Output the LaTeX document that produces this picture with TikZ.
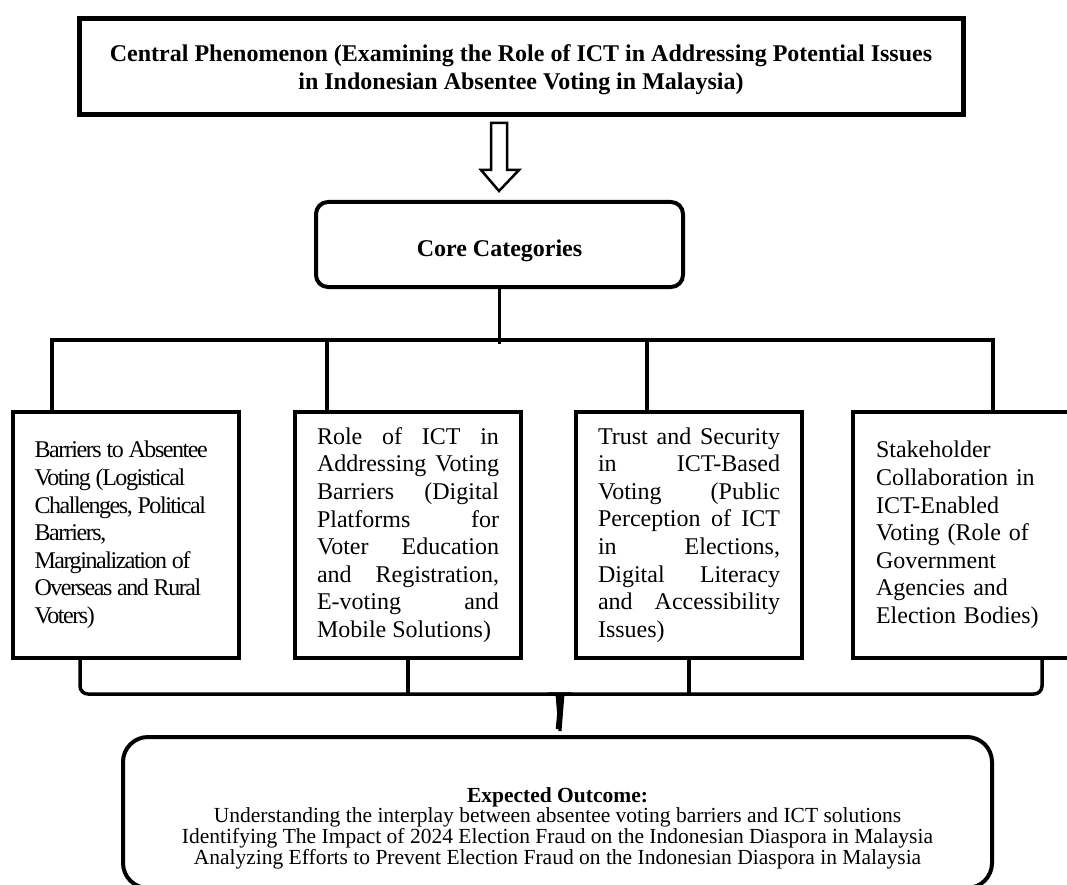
\documentclass[tikz,border=0pt]{standalone}
\usepackage{fontspec}
\setmainfont{Liberation Serif}
\newfontfamily\tightfont[LetterSpace=-6]{Liberation Serif}
\usetikzlibrary{positioning}
\hyphenpenalty=10000

\begin{document}
\begin{tikzpicture}[x=1pt, y=-1pt,
        box/.style = {draw, line width=4pt, inner sep=0pt, text width=182pt, minimum width=226pt, minimum height=246pt, font=\fontsize{24}{27.6}\selectfont},
        link/.style = {line width=3.5pt}
    ]
        \useasboundingbox (0, 0) rectangle (1067, 885);
        \node (central) [draw, line width=5pt, minimum width=884pt, minimum height=96pt, align=center, text depth=0pt, font=\bfseries\fontsize{24}{28}\selectfont] at (521, 67) {Central Phenomenon (Examining the Role of ICT in Addressing Potential Issues\\ in Indonesian Absentee Voting in Malaysia)};
        \node (core) [draw, line width=4pt, rounded corners=12pt, minimum width=367pt, minimum height=85pt, text height=23pt, text depth=0pt, font=\bfseries\fontsize{24}{28}\selectfont] at (499.5, 244.5) {Core Categories};
        \draw[line width=2.5pt, fill=white] (491, 123) -- (507, 123) -- (507, 170) -- (519, 170) -- (499, 191) -- (481, 170) -- (491, 170) -- cycle;

        \node (barriers) [box, align=left, font=\tightfont\fontsize{24}{27.6}\selectfont] at (125.5, 535) {\spaceskip=0.2em\relax Barriers to Absentee\\ Voting (Logistical\\ Challenges, Political\\ Barriers,\\ Marginalization of\\ Overseas and Rural\\ Voters)};
        \node (ictrole) [box, align=justify] at (408, 535) {Role of ICT in\linebreak Addressing Voting\linebreak Barriers (Digital\linebreak Platforms for\linebreak Voter Education\linebreak and Registration,\linebreak E-voting and\linebreak Mobile Solutions)};
        \node (trust) [box, align=justify] at (689, 535) {Trust and Security\linebreak in ICT-Based\linebreak Voting (Public\linebreak Perception of ICT\linebreak in Elections,\linebreak Digital Literacy\linebreak and Accessibility\linebreak Issues)};
        \node (stakeholder) [box, minimum width=228pt, align=left] at (967, 535) {Stakeholder\\ Collaboration in\\ ICT-Enabled\\ Voting (Role of\\ Government\\ Agencies and\\ Election Bodies)};

        % branches from the core categories
        \draw[link] (core.south) -- ++(0, 55);
        \draw[link] ([xshift=-73.5pt]barriers.north) -- ++(0, -70) -| ([xshift=26pt]stakeholder.north);
        \draw[link] ([xshift=-81pt]ictrole.north) -- ++(0, -70);
        \draw[link] ([xshift=-42pt]trust.north) -- ++(0, -70);

        \node (outcome) [draw, line width=4pt, rounded corners=25pt, minimum width=869pt, minimum height=151pt] at (557.5, 812.5) {};
        \node (outcometext) [align=center, font=\fontsize{21.5}{20.7}\selectfont] at (557.5, 828) {\textbf{Expected Outcome:}\\ Understanding the interplay between absentee voting barriers and ICT solutions\\ Identifying The Impact of 2024 Election Fraud on the Indonesian Diaspora in Malaysia\\ Analyzing Efforts to Prevent Election Fraud on the Indonesian Diaspora in Malaysia};

        % brace into the expected outcome
        \coordinate (brace) at (560, 694);
        \draw[link] ([xshift=-45.5pt]barriers.south) [rounded corners=8pt] |- (553, 694) [sharp corners] to[out=0, in=90] (560, 701) -- ([yshift=6pt]outcome.north);
        \draw[link] ([xshift=75pt]stakeholder.south) [rounded corners=8pt] |- (567, 694) [sharp corners] to[out=180, in=90] (560, 701);
        \fill (555.5, 694) -- (564.5, 694) -- (561.5, 731) -- (558.5, 731) -- cycle;
        \draw[link] (ictrole.south) -- (ictrole.south |- brace);
        \draw[link] (trust.south) -- (trust.south |- brace);
    \end{tikzpicture}
\end{document}
